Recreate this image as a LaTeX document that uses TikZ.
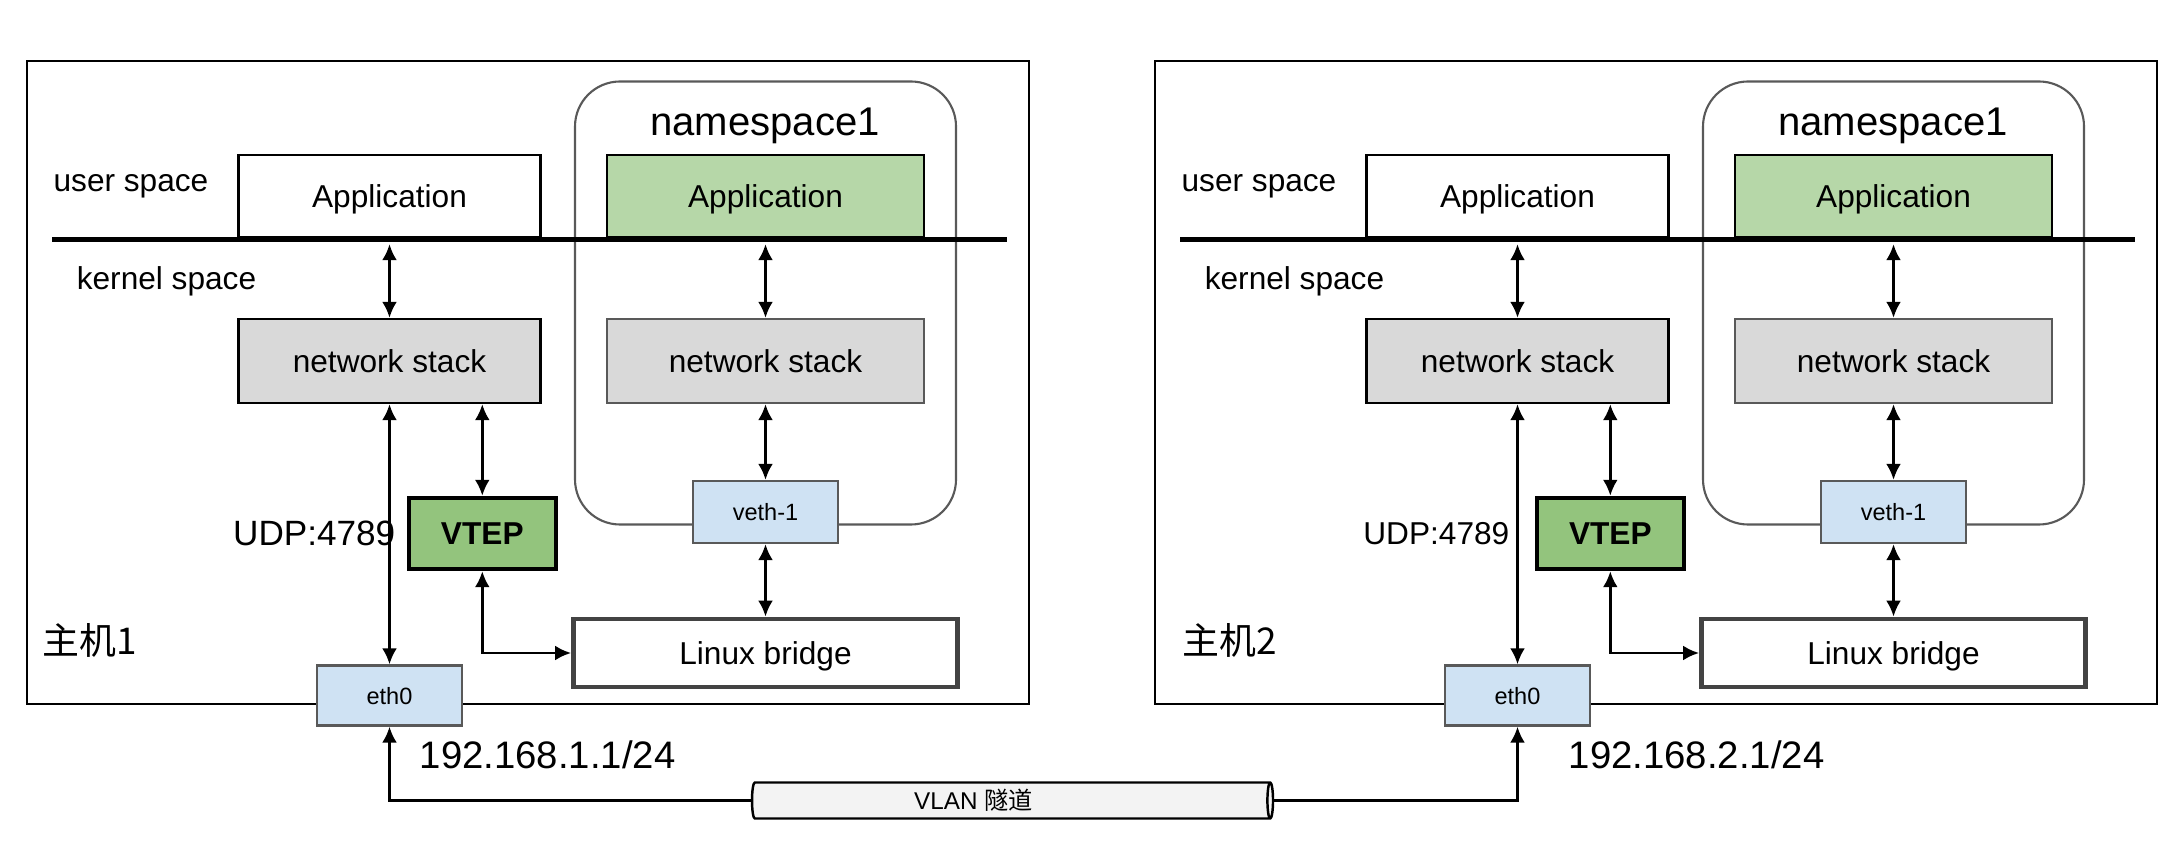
\documentclass[tikz,border=0pt]{standalone}
\usepackage{fontspec}
\setmainfont{Liberation Sans}
\newfontfamily\cjk{Noto Sans CJK SC}
\usetikzlibrary{arrows.meta,shapes.geometric}
\definecolor{appgreen}{HTML}{B6D7A8}
\definecolor{stackgray}{HTML}{D9D9D9}
\definecolor{vtepgreen}{HTML}{93C47D}
\definecolor{ifblue}{HTML}{CFE2F3}
\definecolor{edgegray}{HTML}{595959}
\definecolor{bridgegray}{HTML}{434343}
\definecolor{tunnelfill}{HTML}{F3F3F3}
\tikzset{
  box/.style={draw, line width=0.7pt, inner sep=0pt, text depth=0pt, font=\fontsize{9}{10}\selectfont},
  appbox/.style={box, fill=white, minimum height=0.82cm},
  stackbox/.style={box, fill=stackgray, minimum height=0.84cm},
  vtepbox/.style={box, fill=vtepgreen, line width=1.3pt, font=\bfseries\fontsize{9}{10}\selectfont, minimum width=1.47cm, minimum height=0.71cm},
  ifbox/.style={box, fill=ifblue, draw=edgegray, font=\fontsize{6.7}{8}\selectfont, minimum width=1.45cm},
  bridgebox/.style={box, fill=white, draw=bridgegray, line width=1.4pt, minimum width=3.84cm, minimum height=0.68cm},
  hostbox/.style={draw, line width=0.6pt, minimum width=10.02cm, minimum height=6.43cm},
  nsbox/.style={draw=edgegray, line width=0.6pt, rounded corners=0.45cm, minimum width=3.81cm, minimum height=4.43cm},
  txt/.style={inner sep=0pt, text depth=0pt, font=\fontsize{9}{10}\selectfont},
  divider/.style={line width=1.5pt},
  link/.style={line width=0.7pt, <->, >={Latex[length=4.5pt,width=4.2pt]}},
  tunnel/.style={cylinder, draw, line width=0.7pt, shape border rotate=0, shape aspect=0.25,
    cylinder uses custom fill, cylinder body fill=tunnelfill, cylinder end fill=tunnelfill,
    minimum width=0.36cm, minimum height=5.21cm, inner sep=0pt, font=\fontsize{6.9}{8}\selectfont}
}
\begin{document}
\begin{tikzpicture}[x=1cm, y=-1cm]
\useasboundingbox (0,0) rectangle (21.71,8.61);
\node[hostbox] (host1) at (5.28,3.825) {};
\node[hostbox] (host2) at (16.56,3.825) {};
\node[nsbox] (ns1) at (7.655,3.03) {};
\node[nsbox] (ns2) at (18.935,3.03) {};
\node[txt, font=\fontsize{11.4}{13}\selectfont] (nslabel1) at (7.65,1.22) {namespace1};
\node[txt, font=\fontsize{11.4}{13}\selectfont] (nslabel2) at (18.93,1.22) {namespace1};
\node[txt] (user1) at (1.31,1.83) {user space};
\node[txt] (user2) at (12.59,1.83) {user space};
\node[txt] (kernel1) at (1.665,2.785) {kernel space};
\node[txt] (kernel2) at (12.945,2.785) {kernel space};
\node[appbox, minimum width=3.02cm] (app1) at (3.895,1.96) {Application};
\node[appbox, fill=appgreen, minimum width=3.17cm] (nsapp1) at (7.655,1.96) {Application};
\node[appbox, minimum width=3.02cm] (app2) at (15.175,1.96) {Application};
\node[appbox, fill=appgreen, minimum width=3.17cm] (nsapp2) at (18.935,1.96) {Application};
\draw[divider] (0.52,2.394) -- (10.07,2.394);
\draw[divider] (11.80,2.394) -- (21.35,2.394);
\node[stackbox, minimum width=3.02cm] (stack1) at (3.895,3.61) {network stack};
\node[stackbox, draw=edgegray, minimum width=3.17cm] (nsstack1) at (7.655,3.61) {network stack};
\node[stackbox, minimum width=3.02cm] (stack2) at (15.175,3.61) {network stack};
\node[stackbox, draw=edgegray, minimum width=3.17cm] (nsstack2) at (18.935,3.61) {network stack};
\node[vtepbox] (vtep1) at (4.823,5.335) {VTEP};
\node[vtepbox] (vtep2) at (16.103,5.335) {VTEP};
\node[txt, anchor=east, font=\fontsize{10}{12}\selectfont] (udp1) at (3.96,5.33) {UDP:4789};
\node[txt, anchor=east] (udp2) at (15.10,5.33) {UDP:4789};
\node[ifbox, minimum height=0.62cm] (veth1) at (7.655,5.12) {veth-1};
\node[ifbox, minimum height=0.62cm] (veth2) at (18.935,5.12) {veth-1};
\node[bridgebox] (br1) at (7.655,6.53) {Linux bridge};
\node[bridgebox] (br2) at (18.935,6.53) {Linux bridge};
\node[txt, font=\cjk\fontsize{10.5}{12}\selectfont] (hostname1) at (0.90,6.39) {主机1};
\node[txt, font=\cjk\fontsize{10.5}{12}\selectfont] (hostname2) at (12.30,6.39) {主机2};
\node[ifbox, minimum height=0.60cm] (eth1) at (3.895,6.955) {eth0};
\node[ifbox, minimum height=0.60cm] (eth2) at (15.175,6.955) {eth0};
\node[txt, anchor=west, font=\fontsize{10.9}{12}\selectfont] (ip1) at (4.19,7.55) {192.168.1.1/24};
\node[txt, anchor=west, font=\fontsize{10.9}{12}\selectfont] (ip2) at (15.68,7.55) {192.168.2.1/24};
\node[tunnel] (vlan) at (10.105,8.005) {VLAN {\cjk 隧道}\hspace*{0.74cm}};
\draw[link, shorten <=0.06cm] (app1) -- (stack1);
\draw[link, shorten <=0.06cm] (nsapp1) -- (nsstack1);
\draw[link] (nsstack1) -- (veth1);
\draw[link] (veth1) -- (br1);
\draw[link] (stack1) -- (eth1);
\draw[link] (stack1.south -| vtep1) -- (vtep1);
\draw[link] (vtep1) |- (br1);
\draw[link, shorten <=0.06cm] (app2) -- (stack2);
\draw[link, shorten <=0.06cm] (nsapp2) -- (nsstack2);
\draw[link] (nsstack2) -- (veth2);
\draw[link] (veth2) -- (br2);
\draw[link] (stack2) -- (eth2);
\draw[link] (stack2.south -| vtep2) -- (vtep2);
\draw[link] (vtep2) |- (br2);
\draw[link, -{Latex[length=4.5pt,width=4.2pt]}] (vlan.west) -| (eth1);
\draw[link, -{Latex[length=4.5pt,width=4.2pt]}] (vlan.east) -| (eth2);
\end{tikzpicture}
\end{document}
